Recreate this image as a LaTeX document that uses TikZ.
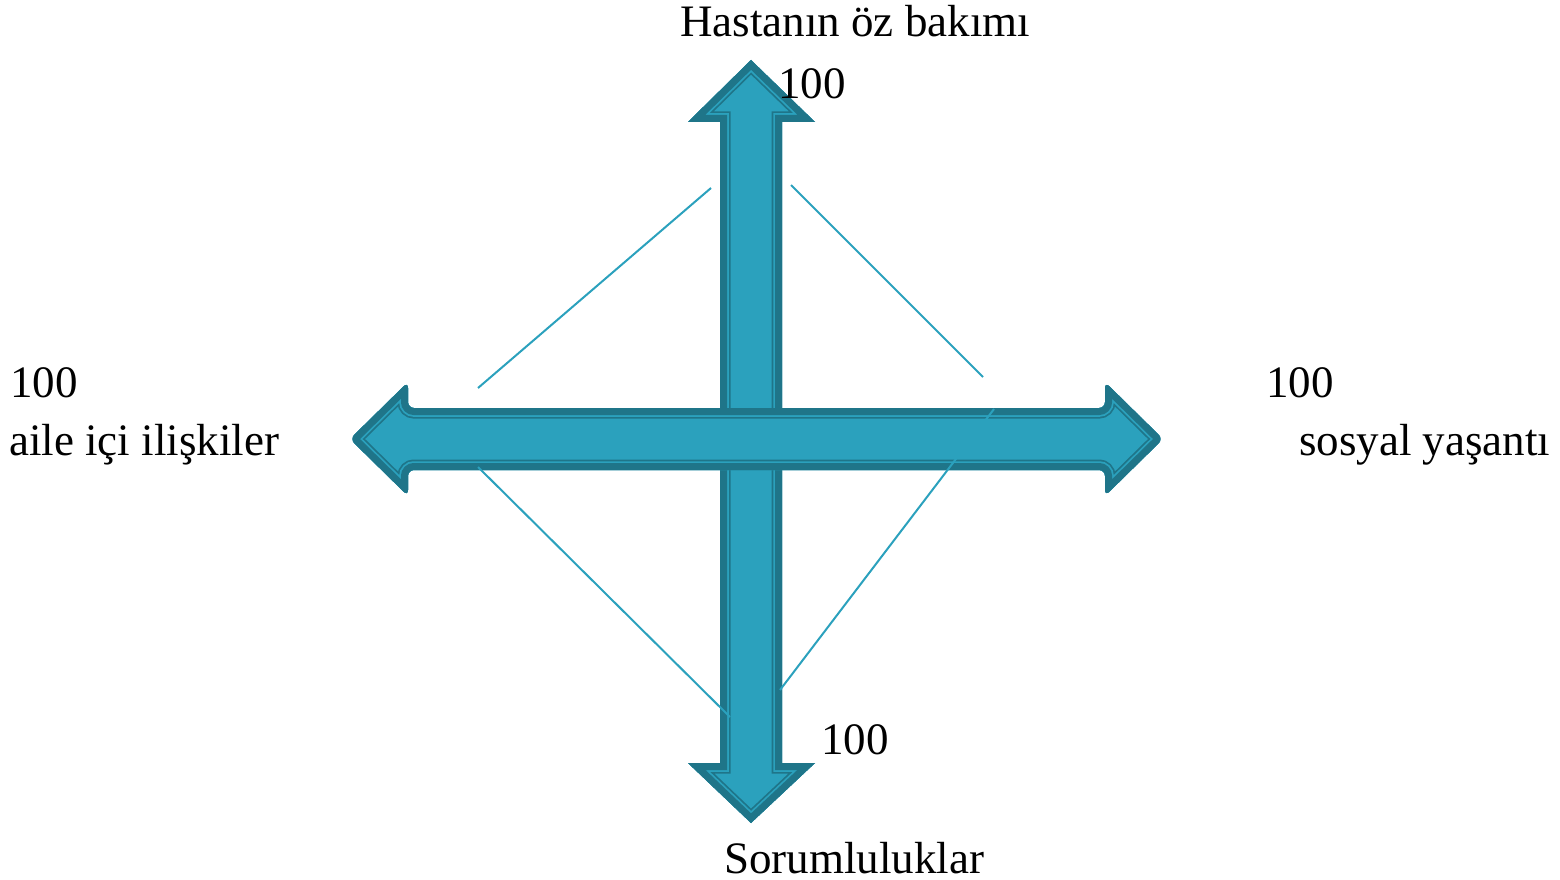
\documentclass[tikz,border=0pt]{standalone}
\usepackage{fontspec}
\setmainfont{Liberation Serif}
\definecolor{fillteal}{RGB}{43,161,189}
\definecolor{darkteal}{RGB}{31,117,137}
\newcommand\fancyarrowbody[2]{%
  \begin{scope}
    \clip[#1] #2;
    \fill[fillteal,#1] #2;
    \draw[darkteal,line width=21,line join=miter,#1] #2;
    \draw[fillteal,line width=17.5,line join=miter,#1] #2;
    \draw[darkteal,line width=14,line join=miter,#1] #2;
  \end{scope}}
\begin{document}
\begin{tikzpicture}[x=1pt,y=-1pt,
  lbl/.style={anchor=base west,inner sep=0,font=\fontsize{45}{52}\selectfont},
  conn/.style={draw=fillteal,line width=2}]
\useasboundingbox (0,0) rectangle (1560,880);
% vertical double arrow
\fancyarrowbody{}{(751,60) -- (815,122) -- (782,122) -- (782,763) -- (815,763) -- (751,823) -- (688,763) -- (720,763) -- (720,122) -- (688,122) -- cycle}
% horizontal double arrow
\fancyarrowbody{rounded corners=6}{(350,439) -- (408,382) -- (408,408) -- (1105,408) -- (1105,382) -- (1163,439) -- (1105,496) -- (1105,470) -- (408,470) -- (408,496) -- cycle}
% thin connectors
\coordinate (l1a) at (711,188); \coordinate (l1b) at (478,388);
\coordinate (l2a) at (791,185); \coordinate (l2b) at (983,377);
\coordinate (l3a) at (478,467); \coordinate (l3b) at (730,717);
\coordinate (l4a) at (994,409); \coordinate (l4b) at (780,690);
\draw[conn] (l1a) -- (l1b);
\draw[conn] (l2a) -- (l2b);
\draw[conn] (l3a) -- (l3b);
\draw[conn] (l4a) -- (l4b);
% labels
\node[lbl] (top) at (680,37) {Hastanın öz bakımı};
\node[lbl] (topv) at (778,99) {100};
\node[lbl] (leftv) at (10,397) {100};
\node[lbl] (left) at (9,455) {aile içi ilişkiler};
\node[lbl] (rightv) at (1266,397) {100};
\node[lbl] (right) at (1299,455) {sosyal yaşantı};
\node[lbl] (botv) at (821,754) {100};
\node[lbl] (bot) at (724,873) {Sorumluluklar};
\end{tikzpicture}
\end{document}
